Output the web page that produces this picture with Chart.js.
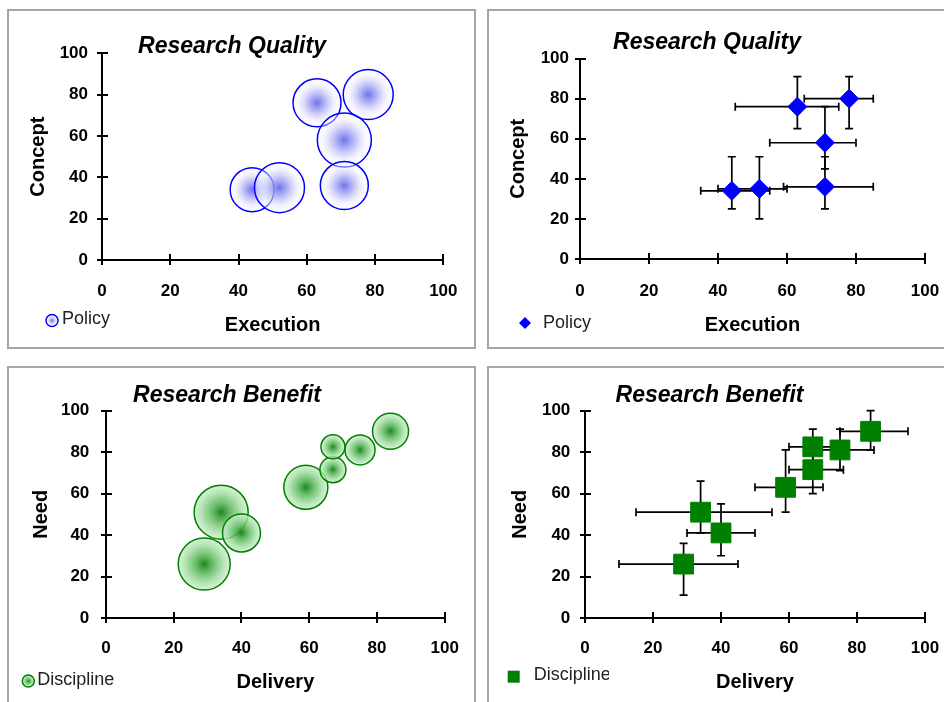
<!DOCTYPE html>
<html>
<head>
<meta charset="utf-8">
<title>Research Quality / Research Benefit</title>
<script src="https://cdn.jsdelivr.net/npm/chart.js@4.4.1/dist/chart.umd.min.js"></script>
<style>
  html, body { margin: 0; padding: 0; background: #fff; overflow: hidden; }
  body { width: 944px; height: 702px; position: relative; }
  .panel { position: absolute; border: 2px solid #a5a5a5; background: #fff; }
  .panel canvas { display: block; }
</style>
</head>
<body>
<div class="panel" style="left:7px;top:9px;width:465px;height:336px"><canvas id="qualityBubble" width="465" height="336"></canvas></div>
<div class="panel" style="left:487px;top:9px;width:470px;height:336px"><canvas id="qualityScatter" width="470" height="336"></canvas></div>
<div class="panel" style="left:7px;top:366px;width:465px;height:340px"><canvas id="benefitBubble" width="465" height="340"></canvas></div>
<div class="panel" style="left:487px;top:366px;width:470px;height:340px"><canvas id="benefitScatter" width="470" height="340"></canvas></div>
<script>
// tick labels shared by every axis
const axisTicks = [0, 20, 40, 60, 80, 100];

// Research Quality - Policy
const policyExecution = [44, 52, 63, 78, 71, 71];
const policyConcept = [34, 35, 76, 80, 58, 36];
const policyBubble = [22, 25, 24, 25, 27, 24];
const policyExecLow = [35, 40, 45, 65, 55, 59];
const policyExecHigh = [55, 60, 75, 85, 80, 85];
const policyConceptLow = [25, 20, 65, 65, 45, 25];
const policyConceptHigh = [51, 51, 91, 91, 76, 51];

// Research Benefit - Discipline
const disciplineDelivery = [29, 34, 40, 59, 67, 67, 75, 84];
const disciplineNeed = [26, 51, 41, 63, 71.5, 82.5, 81, 90];
const disciplineBubble = [26, 27, 19, 22, 13, 12, 15, 18];
const disciplineDelivLow = [10, 15, 30, 50, 60, 60, 66, 75];
const disciplineDelivHigh = [45, 55, 50, 70, 76, 75, 85, 95];
const disciplineNeedLow = [11, 41, 30, 51, 60, 72, 71, 81];
const disciplineNeedHigh = [36, 66, 55, 81, 80, 91, 91, 100];

const blueStops = [[0, 'rgba(105,105,235,0.95)'], [0.35, 'rgba(165,165,245,0.8)'], [0.75, 'rgba(232,232,253,0.5)'], [1, 'rgba(255,255,255,0.3)']];
const greenStops = [[0, 'rgba(20,128,20,0.95)'], [0.35, 'rgba(85,180,85,0.85)'], [0.75, 'rgba(165,222,165,0.8)'], [1, 'rgba(205,240,205,0.8)']];

Chart.defaults.font.family = "'Liberation Sans', Arial, sans-serif";
Chart.defaults.color = '#000';
Chart.defaults.animation = false;
Chart.defaults.events = [];

// radial gradient per bubble, centred on the bubble
function bubbleFill(stops) {
    return function (ctx) {
        const plain = stops[1][1];
        if (ctx.type !== 'data' || !ctx.raw) return plain;
        const chart = ctx.chart;
        const x = chart.scales.x ? chart.scales.x.getPixelForValue(ctx.raw.x) : NaN;
        const y = chart.scales.y ? chart.scales.y.getPixelForValue(ctx.raw.y) : NaN;
        const r = ctx.raw.r;
        if (!isFinite(x) || !isFinite(y) || !isFinite(r) || r <= 0) return plain;
        const g = chart.ctx.createRadialGradient(x, y, 0, x, y, r);
        stops.forEach(s => g.addColorStop(s[0], s[1]));
        return g;
    };
}

// excel style "cross" tick marks: the part inside the plot
const innerTicks = {
    id: 'innerTicks',
    beforeDatasetsDraw(chart) {
        const { ctx, chartArea, scales } = chart;
        ctx.save();
        ctx.strokeStyle = '#000';
        ctx.lineWidth = 2;
        ctx.beginPath();
        scales.x.ticks.forEach(t => {
            const px = Math.round(scales.x.getPixelForValue(t.value));
            ctx.moveTo(px, chartArea.bottom);
            ctx.lineTo(px, chartArea.bottom - 6);
        });
        scales.y.ticks.forEach(t => {
            const py = Math.round(scales.y.getPixelForValue(t.value));
            ctx.moveTo(chartArea.left, py);
            ctx.lineTo(chartArea.left + 6, py);
        });
        ctx.stroke();
        ctx.restore();
    }
};

const errorBars = {
    id: 'errorBars',
    beforeDatasetsDraw(chart) {
        const { ctx, scales: { x, y } } = chart;
        const cap = 4;
        chart.data.datasets.forEach(ds => {
            if (!ds.errors) return;
            ctx.save();
            ctx.strokeStyle = '#000';
            ctx.lineWidth = 1.7;
            ds.data.forEach((p, i) => {
                const e = ds.errors[i];
                const px = x.getPixelForValue(p.x), py = y.getPixelForValue(p.y);
                const x0 = x.getPixelForValue(e.xMin), x1 = x.getPixelForValue(e.xMax);
                const y0 = y.getPixelForValue(e.yMin), y1 = y.getPixelForValue(e.yMax);
                ctx.beginPath();
                ctx.moveTo(x0, py); ctx.lineTo(x1, py);
                ctx.moveTo(x0, py - cap); ctx.lineTo(x0, py + cap);
                ctx.moveTo(x1, py - cap); ctx.lineTo(x1, py + cap);
                ctx.moveTo(px, y0); ctx.lineTo(px, y1);
                ctx.moveTo(px - cap, y0); ctx.lineTo(px + cap, y0);
                ctx.moveTo(px - cap, y1); ctx.lineTo(px + cap, y1);
                ctx.stroke();
            });
            ctx.restore();
        });
    }
};

// legend sits on the same line as the x axis title, bottom left
const cornerLegend = {
    id: 'cornerLegend',
    afterDraw(chart, args, opts) {
        const ds = chart.data.datasets[0];
        const ctx = chart.ctx;
        const s = opts.size;
        ctx.save();
        ctx.beginPath();
        if (opts.marker === 'circle') {
            const g = ctx.createRadialGradient(opts.x, opts.y, 0, opts.x, opts.y, s);
            ds.fillStops.forEach(st => g.addColorStop(st[0], st[1]));
            ctx.arc(opts.x, opts.y, s, 0, Math.PI * 2);
            ctx.fillStyle = g;
            ctx.fill();
            ctx.lineWidth = 1.5;
            ctx.strokeStyle = ds.borderColor;
            ctx.stroke();
        } else if (opts.marker === 'rectRot') {
            ctx.moveTo(opts.x - s, opts.y);
            ctx.lineTo(opts.x, opts.y - s);
            ctx.lineTo(opts.x + s, opts.y);
            ctx.lineTo(opts.x, opts.y + s);
            ctx.closePath();
            ctx.fillStyle = ds.backgroundColor;
            ctx.fill();
        } else {
            ctx.rect(opts.x - s, opts.y - s, s * 2, s * 2);
            ctx.fillStyle = ds.backgroundColor;
            ctx.fill();
        }
        if (opts.clipRight) {
            ctx.beginPath();
            ctx.rect(0, 0, opts.clipRight, chart.height);
            ctx.clip();
        }
        ctx.font = "18px 'Liberation Sans', Arial, sans-serif";
        ctx.fillStyle = '#222';
        ctx.textBaseline = 'middle';
        ctx.fillText(ds.label, opts.textX, opts.textY);
        ctx.restore();
    }
};

function axis(title, isX, L) {
    return {
        type: 'linear',
        min: 0,
        max: 100,
        afterBuildTicks: s => { s.ticks = axisTicks.map(v => ({ value: v })); },
        afterFit: s => { if (isX) s.height = L.xHeight; else s.width = L.yWidth; },
        grid: { drawOnChartArea: false, color: '#000', lineWidth: 2, tickLength: 5 },
        border: { color: '#000', width: 2 },
        ticks: { font: { size: 17, weight: 'bold' }, color: '#000', padding: isX ? L.xTickPad : L.yTickPad, maxRotation: 0 },
        title: {
            display: true, text: title, color: '#000',
            font: { size: 20, weight: 'bold' },
            padding: isX ? { top: 0, bottom: L.xTitlePad } : { top: L.yTitlePad, bottom: 0 }
        }
    };
}

function buildChart(canvasId, type, dataset, title, xTitle, yTitle, L) {
    return new Chart(document.getElementById(canvasId), {
        type: type,
        data: { datasets: [dataset] },
        plugins: [innerTicks, errorBars, cornerLegend],
        options: {
            responsive: false,
            layout: { padding: L.pad },
            plugins: {
                legend: { display: false },
                tooltip: { enabled: false },
                title: {
                    display: true, text: title, color: '#000',
                    font: { size: 23, weight: 'bold', style: 'italic', lineHeight: 0.55 },
                    padding: L.titlePad
                },
                cornerLegend: L.legend
            },
            scales: {
                x: axis(xTitle, true, L),
                y: axis(yTitle, false, L)
            }
        }
    });
}

const policyBubbles = policyExecution.map((x, i) => ({ x: x, y: policyConcept[i], r: policyBubble[i] }));
const policyPoints = policyExecution.map((x, i) => ({ x: x, y: policyConcept[i] }));
const policyErrors = policyExecution.map((x, i) => ({
    xMin: policyExecLow[i], xMax: policyExecHigh[i], yMin: policyConceptLow[i], yMax: policyConceptHigh[i]
}));
const disciplineBubbles = disciplineDelivery.map((x, i) => ({ x: x, y: disciplineNeed[i], r: disciplineBubble[i] }));
const disciplinePoints = disciplineDelivery.map((x, i) => ({ x: x, y: disciplineNeed[i] }));
const disciplineErrors = disciplineDelivery.map((x, i) => ({
    xMin: disciplineDelivLow[i], xMax: disciplineDelivHigh[i], yMin: disciplineNeedLow[i], yMax: disciplineNeedHigh[i]
}));

buildChart('qualityBubble', 'bubble', {
    label: 'Policy',
    data: policyBubbles,
    backgroundColor: bubbleFill(blueStops),
    borderColor: '#0000ff',
    borderWidth: 1.5,
    fillStops: blueStops
}, 'Research Quality', 'Execution', 'Concept', {
    pad: { top: 20, left: 10, right: 29, bottom: 10 },
    titlePad: { top: 9.6, bottom: 0 },
    yWidth: 83, xHeight: 77, yTitlePad: 7, yTickPad: 9, xTickPad: 16.5, xTitlePad: 0,
    legend: { marker: 'circle', size: 6, x: 43, y: 309.5, textX: 53, textY: 308 }
});

buildChart('qualityScatter', 'scatter', {
    label: 'Policy',
    data: policyPoints,
    errors: policyErrors,
    pointStyle: 'rectRot',
    pointRadius: 9.5,
    pointBorderWidth: 1,
    backgroundColor: '#0000ff',
    borderColor: '#0000ff'
}, 'Research Quality', 'Execution', 'Concept', {
    pad: { top: 15, left: 0, right: 34, bottom: 10 },
    titlePad: { top: 10.6, bottom: 9.3 },
    yWidth: 91, xHeight: 78, yTitlePad: 17.7, yTickPad: 6, xTickPad: 17.5, xTitlePad: 0,
    legend: { marker: 'rectRot', size: 6, x: 36, y: 312, textX: 54, textY: 312 }
});

buildChart('benefitBubble', 'bubble', {
    label: 'Discipline',
    data: disciplineBubbles,
    backgroundColor: bubbleFill(greenStops),
    borderColor: '#008000',
    borderWidth: 1.5,
    fillStops: greenStops
}, 'Research Benefit', 'Delivery', 'Need', {
    pad: { top: 10, left: 0, right: 29, bottom: 14 },
    titlePad: { top: 10.9, bottom: 9 },
    yWidth: 97, xHeight: 76, yTitlePad: 20.7, yTickPad: 11.7, xTickPad: 15.1, xTitlePad: 0,
    legend: { marker: 'circle', size: 6, x: 19.3, y: 313, textX: 28.3, textY: 312 }
});

buildChart('benefitScatter', 'scatter', {
    label: 'Discipline',
    data: disciplinePoints,
    errors: disciplineErrors,
    pointStyle: 'rect',
    pointRadius: 14,
    pointBorderWidth: 1,
    backgroundColor: '#008000',
    borderColor: '#008000'
}, 'Research Benefit', 'Delivery', 'Need', {
    pad: { top: 10, left: 5, right: 34, bottom: 14 },
    titlePad: { top: 10.9, bottom: 9 },
    yWidth: 91, xHeight: 76, yTitlePad: 14.3, yTickPad: 9.7, xTickPad: 15.1, xTitlePad: 0,
    legend: { marker: 'rect', size: 6, x: 24.7, y: 308.7, textX: 44.7, textY: 307, clipRight: 120 }
});
</script>
</body>
</html>
